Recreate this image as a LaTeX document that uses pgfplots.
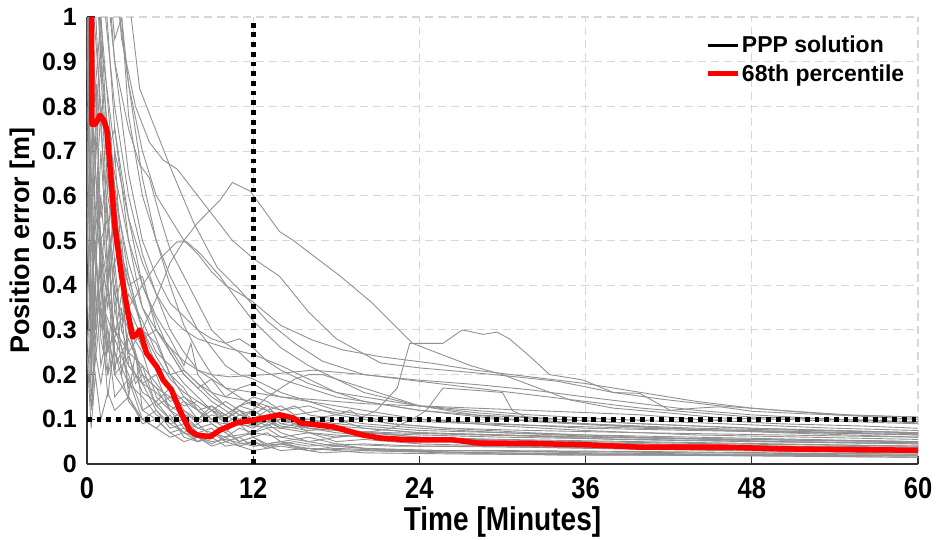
\documentclass[border=0pt]{standalone}
\usepackage{fontspec}
\setmainfont{Liberation Sans}
\newfontfamily\narrowfont[FakeStretch=0.85]{Liberation Sans}
\usepackage{pgfplots}
\pgfplotsset{compat=1.18}
\definecolor{runc}{RGB}{145,145,145}
\definecolor{gridc}{RGB}{215,215,215}
\begin{document}
\begin{tikzpicture}
\path[use as bounding box] (-87pt,-75pt) rectangle (849pt,464pt);
\begin{axis}[
  at={(0pt,0pt)}, anchor=south west,
  scale only axis, width=831pt, height=447pt,
  xmin=0, xmax=60, ymin=0, ymax=1,
  xtick={0,12,24,36,48,60},
  ytick={0,0.1,0.2,0.3,0.4,0.5,0.6,0.7,0.8,0.9,1},
  yticklabels={0,0.1,0.2,0.3,0.4,0.5,0.6,0.7,0.8,0.9,1},
  axis x line*=bottom, axis y line*=left,
  axis line style={line width=1.4pt, black!80},
  tick style={line width=1.2pt, black!80},
  tick align=inside, major tick length=8pt,
  grid=major,
  major grid style={gridc, line width=1.1pt, dash pattern=on 8pt off 5pt},
  /pgf/number format/assume math mode=true,
  yticklabel style={font=\bfseries\fontsize{25}{25}\selectfont, anchor=east, inner sep=0pt, xshift=-10pt},
  xticklabel style={font=\narrowfont\bfseries\fontsize{30}{30}\selectfont, anchor=base, inner sep=0pt, yshift=-34pt},
  xlabel={Time [Minutes]},
  ylabel={Position error [m]},
  xlabel style={font=\narrowfont\bfseries\fontsize{33}{33}\selectfont, at={(axis description cs:0.5,0)}, anchor=base, yshift=-66pt, inner sep=0pt},
  ylabel style={font=\bfseries\fontsize{27}{27}\selectfont, at={(axis description cs:-0.0686,0.5)}, anchor=base, inner sep=0pt},
  legend style={at={(rel axis cs:0.744,0.962)}, anchor=north west, draw=none, fill=none,
     font=\bfseries\fontsize{23}{23}\selectfont, row sep=6pt, inner sep=0pt},
  legend cell align=left,
  legend image code/.code={\draw[#1] (0pt,0pt) -- (30pt,0pt);},
  greyrun/.style={runc, line width=0.9pt, forget plot},
]
% ---------- individual runs (grey) ----------
\addplot[greyrun] coordinates {(0,1.6)(0.5,1.1)(1,0.75)(1.5,0.55)(2,0.42)(2.5,0.3)(3,0.25)(3.5,0.18)(4,0.2)(5,0.13)(6,0.1)(7,0.07)(8,0.06)(9,0.05)(10,0.055)(12,0.04)(14,0.045)(16,0.035)(20,0.03)(24,0.028)(30,0.025)(40,0.022)(50,0.02)(60,0.018)};
\addplot[greyrun] coordinates {(0,1.3)(0.3,0.2)(0.7,0.85)(1,0.4)(1.4,0.6)(2,0.35)(2.5,0.42)(3,0.22)(4,0.18)(5,0.12)(6,0.09)(7,0.1)(8,0.07)(9,0.08)(10,0.05)(11,0.06)(12,0.04)(14,0.05)(16,0.03)(18,0.04)(22,0.03)(28,0.03)(36,0.025)(46,0.022)(60,0.02)};
\addplot[greyrun] coordinates {(0,0.95)(0.4,0.13)(0.8,0.6)(1.2,0.25)(1.6,0.5)(2,0.2)(2.5,0.35)(3,0.15)(3.5,0.25)(4,0.12)(5,0.1)(6,0.07)(7,0.05)(8,0.06)(9,0.04)(10,0.05)(12,0.03)(14,0.04)(17,0.025)(20,0.03)(26,0.025)(34,0.02)(44,0.02)(60,0.015)};
\addplot[greyrun] coordinates {(0,2.2)(1,1.6)(2,1.15)(3,0.85)(4,0.64)(5,0.5)(6,0.4)(7,0.31)(8,0.25)(9,0.2)(10,0.17)(11,0.15)(12,0.13)(14,0.11)(16,0.1)(18,0.09)(20,0.085)(24,0.075)(30,0.07)(36,0.065)(44,0.06)(52,0.055)(60,0.05)};
\addplot[greyrun] coordinates {(0,2.5)(2,1.4)(3,1.05)(3.8,0.84)(4.8,0.76)(6.2,0.65)(7.7,0.54)(9.4,0.44)(11,0.39)(13,0.32)(15,0.27)(17,0.23)(20,0.2)(24,0.185)(28,0.17)(32,0.155)(36,0.14)(40,0.125)(44,0.115)(48,0.105)(54,0.1)(60,0.095)};
\addplot[greyrun] coordinates {(0,2)(1.5,1.3)(2.5,0.95)(3.5,0.8)(4.5,0.72)(5.5,0.68)(6.5,0.66)(7.5,0.62)(9,0.56)(10.5,0.5)(12,0.46)(13.9,0.42)(16,0.34)(18,0.28)(21.2,0.226)(24,0.215)(27.7,0.205)(31,0.195)(34,0.185)(38,0.16)(41.5,0.145)(45.7,0.13)(50,0.12)(55,0.11)(60,0.105)};
\addplot[greyrun] coordinates {(0,0.9)(1,0.5)(2,0.3)(3,0.25)(4,0.3)(5,0.37)(6,0.45)(7,0.5)(8,0.54)(9.6,0.59)(10.5,0.63)(11.8,0.61)(13.9,0.52)(14.9,0.5)(18.3,0.42)(20.6,0.36)(23.5,0.27)(27.7,0.22)(30,0.2)(34.9,0.143)(38,0.125)(42.1,0.114)(45.7,0.103)(50,0.1)(55,0.095)(60,0.09)};
\addplot[greyrun] coordinates {(0,1.2)(0.5,0.6)(1,0.45)(2,0.3)(3,0.22)(4,0.18)(5,0.16)(6,0.13)(7,0.11)(8,0.1)(10,0.09)(12,0.085)(14,0.08)(16,0.085)(18,0.09)(19.5,0.1)(20.9,0.12)(22.4,0.17)(23.3,0.27)(25.7,0.27)(27.1,0.3)(28.6,0.29)(29.6,0.295)(30.5,0.28)(32,0.24)(33.4,0.2)(35.8,0.188)(38,0.16)(39.9,0.158)(42.1,0.12)(44,0.125)(45.7,0.128)(48,0.118)(52,0.112)(56,0.108)(60,0.105)};
\addplot[greyrun] coordinates {(0,1.1)(0.5,0.7)(1,0.5)(1.5,0.55)(2,0.38)(3,0.3)(4,0.2)(5,0.17)(6,0.12)(7,0.1)(8,0.08)(10,0.06)(12,0.07)(14,0.06)(16,0.05)(18,0.06)(20,0.07)(22,0.08)(23.5,0.1)(24.5,0.12)(25.7,0.17)(28,0.165)(30,0.16)(30.7,0.12)(32,0.1)(36,0.09)(42,0.08)(50,0.07)(60,0.06)};
\addplot[greyrun] coordinates {(0,1.5)(1,0.9)(2,0.6)(3,0.45)(4,0.35)(5,0.3)(6,0.26)(7,0.23)(8,0.21)(9,0.2)(10.3,0.195)(13,0.2)(16.3,0.21)(20,0.2)(23.8,0.188)(28,0.178)(32,0.166)(36,0.15)(40,0.135)(44,0.12)(48,0.11)(54,0.1)(60,0.092)};
\addplot[greyrun] coordinates {(0,1.8)(1.5,1.2)(3,0.85)(4,0.7)(5,0.6)(6,0.55)(7,0.5)(8,0.47)(9,0.43)(10,0.4)(11.8,0.367)(14,0.31)(16.3,0.277)(18.5,0.255)(21.2,0.24)(25,0.225)(28,0.21)(32,0.195)(36,0.18)(40,0.16)(44,0.14)(48,0.125)(54,0.11)(60,0.1)};
\addplot[greyrun] coordinates {(0,1.4)(1,0.95)(2,0.7)(3,0.55)(4,0.45)(5,0.38)(6,0.33)(7,0.3)(8,0.28)(9,0.27)(10,0.26)(12,0.245)(14,0.22)(16,0.19)(18,0.16)(20,0.14)(24,0.12)(28,0.11)(34,0.1)(40,0.09)(48,0.08)(60,0.07)};
\addplot[greyrun] coordinates {(0,0.8)(0.5,0.45)(1,0.6)(1.5,0.4)(2,0.5)(3,0.35)(4,0.28)(5,0.3)(6,0.25)(7,0.2)(8,0.17)(9,0.19)(10,0.15)(12,0.14)(14,0.12)(16,0.13)(18,0.11)(22,0.09)(26,0.08)(32,0.07)(40,0.06)(50,0.05)(60,0.045)};
\addplot[greyrun] coordinates {(0,0.6)(0.3,0.25)(0.6,0.4)(1,0.22)(1.5,0.3)(2,0.2)(3,0.24)(4,0.16)(5,0.14)(6,0.17)(7,0.12)(8,0.1)(9,0.13)(10,0.1)(11,0.12)(12,0.09)(14,0.1)(16,0.08)(20,0.07)(24,0.06)(30,0.055)(40,0.05)(50,0.045)(60,0.04)};
\addplot[greyrun] coordinates {(0,0.4)(0.3,0.15)(0.7,0.3)(1,0.5)(1.5,0.35)(2,0.45)(2.5,0.3)(3,0.38)(4,0.32)(5,0.25)(6,0.22)(7,0.18)(8,0.15)(9,0.12)(10,0.1)(11,0.12)(12,0.11)(13,0.13)(14,0.1)(16,0.09)(19,0.075)(24,0.06)(30,0.05)(40,0.04)(50,0.035)(60,0.03)};
\addplot[greyrun] coordinates {(0,1.0)(0.5,0.35)(1,0.7)(1.5,0.45)(2,0.55)(3,0.4)(4,0.42)(5,0.3)(6,0.26)(7,0.21)(8,0.18)(9,0.16)(10,0.15)(11,0.17)(12,0.18)(13,0.16)(14,0.15)(16,0.14)(18,0.13)(20,0.12)(24,0.1)(30,0.085)(36,0.075)(44,0.065)(52,0.06)(60,0.055)};
\addplot[greyrun] coordinates {(0,2)(1,1.3)(2,0.9)(3,0.65)(4,0.5)(5,0.42)(6,0.36)(7,0.33)(8,0.3)(9,0.28)(10,0.27)(11,0.28)(12,0.26)(13,0.23)(14,0.21)(16,0.18)(18,0.16)(20,0.15)(24,0.13)(28,0.12)(32,0.11)(38,0.1)(46,0.09)(54,0.08)(60,0.075)};
\addplot[greyrun] coordinates {(0,1.2)(0.5,0.9)(1,0.55)(1.5,0.65)(2,0.45)(2.5,0.5)(3,0.33)(4,0.26)(5,0.22)(6,0.2)(7,0.21)(8,0.18)(9,0.15)(10,0.13)(11,0.11)(12,0.12)(13,0.1)(14,0.11)(16,0.09)(18,0.1)(20,0.08)(24,0.07)(30,0.065)(38,0.055)(48,0.05)(60,0.045)};
\addplot[greyrun] coordinates {(0,0.7)(0.4,0.3)(0.8,0.55)(1.2,0.35)(2,0.28)(2.5,0.38)(3,0.25)(4,0.22)(5,0.18)(6,0.14)(7,0.15)(8,0.12)(9,0.1)(10,0.08)(11,0.09)(12,0.06)(13,0.07)(14,0.05)(16,0.06)(18,0.045)(22,0.04)(28,0.04)(36,0.035)(46,0.03)(60,0.025)};
\addplot[greyrun] coordinates {(0,1.5)(0.5,1.0)(1,0.8)(2,0.65)(3,0.5)(4,0.4)(5,0.33)(6,0.28)(7,0.22)(7.5,0.27)(8,0.2)(9,0.16)(10,0.13)(11,0.11)(12,0.1)(13,0.12)(14,0.09)(16,0.08)(18,0.07)(22,0.06)(28,0.055)(36,0.05)(46,0.045)(60,0.04)};
\addplot[greyrun] coordinates {(0,1.8)(1,1.2)(2,0.9)(3,0.75)(3.8,0.67)(4.5,0.64)(5.3,0.55)(6,0.48)(7,0.42)(8,0.36)(9,0.3)(10,0.27)(11,0.25)(12,0.22)(14,0.19)(16,0.17)(18,0.15)(20,0.14)(24,0.12)(30,0.1)(36,0.09)(44,0.08)(52,0.075)(60,0.07)};
\addplot[greyrun] coordinates {(0,0.9)(0.5,0.5)(1,0.35)(1.5,0.25)(2,0.3)(3,0.35)(4,0.4)(5.3,0.46)(6.5,0.497)(7.2,0.497)(8.2,0.47)(9.6,0.42)(11,0.36)(12,0.32)(14,0.26)(16,0.22)(18,0.19)(20,0.16)(24,0.13)(28,0.115)(34,0.1)(40,0.09)(48,0.08)(60,0.07)};
\addplot[greyrun] coordinates {(0,1.1)(0.5,0.5)(1,0.8)(1.5,0.4)(2,0.6)(3,0.3)(4,0.25)(5,0.15)(6,0.12)(7,0.08)(8,0.06)(9,0.07)(10,0.05)(11,0.06)(12,0.07)(13,0.08)(14,0.06)(16,0.07)(18,0.05)(20,0.055)(24,0.045)(30,0.04)(40,0.035)(50,0.03)(60,0.028)};
\addplot[greyrun] coordinates {(0,0.5)(0.5,0.2)(1,0.35)(1.5,0.15)(2,0.28)(3,0.2)(4,0.12)(5,0.14)(6,0.1)(7,0.12)(8,0.09)(9,0.11)(10,0.1)(11,0.13)(12,0.15)(13,0.14)(14,0.12)(15,0.13)(16,0.11)(18,0.1)(20,0.09)(24,0.08)(30,0.07)(38,0.06)(48,0.055)(60,0.05)};
\addplot[greyrun] coordinates {(0,0.3)(0.3,0.12)(0.6,0.25)(1,0.18)(1.5,0.28)(2,0.15)(3,0.19)(4,0.1)(5,0.08)(6,0.11)(7,0.06)(8,0.05)(9,0.07)(10,0.06)(11,0.08)(12,0.07)(13,0.09)(14,0.07)(16,0.05)(18,0.04)(20,0.035)(26,0.03)(34,0.028)(44,0.025)(60,0.022)};
\addplot[greyrun] coordinates {(0,1.4)(0.5,0.6)(1,0.9)(1.5,0.5)(2,0.7)(2.5,0.45)(3,0.4)(4,0.3)(5,0.24)(6,0.19)(7,0.16)(8,0.14)(9,0.12)(10,0.14)(11,0.12)(12,0.1)(13,0.11)(14,0.09)(16,0.1)(18,0.085)(20,0.08)(24,0.07)(30,0.065)(38,0.06)(48,0.055)(60,0.05)};
\addplot[greyrun] coordinates {(0,0.75)(0.3,0.35)(0.6,0.5)(1,0.28)(1.5,0.2)(2,0.25)(3,0.14)(4,0.1)(5,0.12)(6,0.08)(7,0.09)(8,0.06)(9,0.045)(10,0.06)(11,0.04)(12,0.05)(13,0.035)(14,0.045)(16,0.03)(18,0.035)(22,0.03)(28,0.025)(36,0.022)(48,0.02)(60,0.018)};
\addplot[greyrun] coordinates {(0,2)(1,1.2)(2,0.75)(3,0.5)(4,0.35)(5,0.28)(6,0.2)(7,0.15)(8,0.13)(9,0.1)(10,0.11)(11,0.09)(12,0.08)(13,0.1)(14,0.08)(16,0.07)(18,0.065)(20,0.06)(24,0.055)(30,0.05)(40,0.045)(50,0.04)(60,0.038)};
\addplot[greyrun] coordinates {(0,1.0)(0.5,0.3)(1,0.45)(1.5,0.2)(2,0.35)(3,0.17)(4,0.22)(5,0.13)(6,0.15)(7,0.11)(8,0.08)(9,0.09)(10,0.07)(11,0.1)(12,0.085)(13,0.095)(14,0.08)(15,0.09)(16,0.07)(18,0.06)(20,0.065)(24,0.055)(30,0.05)(40,0.045)(50,0.04)(60,0.035)};
\addplot[greyrun] coordinates {(0,1.7)(1,1.0)(2,0.62)(3,0.42)(4,0.3)(5,0.22)(6,0.17)(7,0.14)(8,0.12)(9,0.13)(10,0.11)(11,0.13)(12,0.14)(13,0.12)(14,0.13)(15,0.11)(17,0.12)(19,0.11)(21,0.1)(24,0.095)(28,0.09)(34,0.085)(40,0.08)(48,0.075)(56,0.07)(60,0.068)};
\addplot[greyrun] coordinates {(0,0.9)(0.4,0.4)(0.8,0.65)(1.2,0.3)(1.6,0.45)(2,0.25)(3,0.18)(4,0.15)(5,0.11)(6,0.09)(7,0.07)(8,0.09)(9,0.06)(10,0.08)(11,0.05)(12,0.06)(13,0.04)(15,0.05)(17,0.04)(20,0.045)(24,0.04)(30,0.038)(40,0.035)(50,0.032)(60,0.03)};
\addplot[greyrun] coordinates {(0,1.3)(0.5,0.8)(1,1.0)(1.5,0.7)(2,0.75)(3,0.55)(4,0.4)(5,0.32)(6,0.25)(7,0.2)(8,0.17)(9,0.14)(10,0.12)(11,0.1)(12,0.09)(13,0.1)(14,0.085)(16,0.075)(18,0.08)(20,0.07)(24,0.065)(30,0.06)(40,0.055)(50,0.05)(60,0.048)};
\addplot[greyrun] coordinates {(0,0.55)(0.3,0.2)(0.7,0.45)(1,0.3)(1.5,0.4)(2,0.22)(3,0.28)(4,0.2)(5,0.17)(6,0.15)(7,0.13)(8,0.14)(9,0.12)(10,0.11)(11,0.13)(12,0.12)(13,0.1)(14,0.11)(16,0.1)(18,0.11)(19,0.12)(20,0.1)(22,0.09)(26,0.08)(32,0.075)(40,0.07)(50,0.065)(60,0.06)};
\addplot[greyrun] coordinates {(0,1.6)(1,1.1)(2,0.8)(3,0.6)(4,0.47)(5,0.38)(6,0.3)(7,0.25)(8,0.21)(9,0.19)(10,0.17)(12,0.16)(14,0.15)(16,0.145)(18,0.14)(20,0.135)(24,0.13)(28,0.125)(32,0.12)(36,0.115)(40,0.11)(44,0.1)(50,0.09)(56,0.085)(60,0.08)};
\addplot[greyrun] coordinates {(0,0.35)(0.3,0.6)(0.6,0.3)(1,0.5)(1.5,0.25)(2,0.4)(2.5,0.2)(3,0.3)(4,0.18)(5,0.2)(6,0.12)(7,0.14)(8,0.1)(9,0.12)(10,0.09)(11,0.11)(12,0.1)(13,0.085)(14,0.1)(16,0.08)(18,0.075)(22,0.07)(28,0.065)(36,0.06)(46,0.055)(60,0.05)};
\addplot[greyrun] coordinates {(0,0.25)(0.3,0.08)(0.6,0.2)(1,0.1)(1.5,0.16)(2,0.12)(3,0.15)(4,0.09)(5,0.1)(6,0.07)(7,0.08)(8,0.05)(9,0.06)(10,0.04)(12,0.05)(14,0.03)(16,0.035)(20,0.025)(28,0.022)(40,0.02)(60,0.015)};
\addplot[greyrun] coordinates {(0,1.9)(1,1.3)(2,0.95)(2.5,1.0)(3,0.78)(4,0.6)(5,0.5)(6,0.42)(7,0.36)(8,0.3)(9,0.26)(10,0.22)(11,0.2)(12,0.19)(13,0.175)(14,0.16)(16,0.14)(18,0.12)(20,0.11)(24,0.1)(30,0.09)(36,0.08)(44,0.075)(52,0.07)(60,0.065)};
\addplot[greyrun] coordinates {(0,0.65)(0.5,0.25)(1,0.4)(2,0.2)(3,0.15)(4,0.1)(5,0.08)(6,0.06)(7,0.07)(8,0.05)(9,0.06)(10,0.08)(11,0.1)(12,0.12)(13,0.15)(14,0.17)(15,0.19)(16,0.2)(17,0.2)(18,0.19)(20,0.17)(22,0.15)(24,0.13)(28,0.11)(32,0.095)(38,0.085)(46,0.075)(54,0.07)(60,0.065)};
\addplot[greyrun] coordinates {(0,1.25)(0.5,0.7)(1,0.95)(1.5,0.6)(2,0.5)(3,0.42)(4,0.3)(5,0.27)(6,0.2)(7,0.17)(8,0.12)(9,0.09)(10,0.07)(11,0.05)(12,0.06)(13,0.045)(14,0.05)(16,0.04)(18,0.045)(20,0.035)(24,0.03)(30,0.03)(40,0.028)(50,0.025)(60,0.022)};
% ---------- PPP solution thresholds ----------
\addplot[black, line width=5pt, dash pattern=on 4.8pt off 4.9pt, forget plot] coordinates {(12,0)(12,0.99)};
\addplot[black, line width=5pt, dash pattern=on 4.8pt off 4.9pt, forget plot] coordinates {(0,0.1)(60,0.1)};
% ---------- 68th percentile ----------
\addplot[red, line width=5.5pt, line join=round, forget plot] coordinates {(0.33,1.05)(0.36,0.76)(0.6,0.76)(0.94,0.78)(1.2,0.77)(1.44,0.747)(1.7,0.65)(2.02,0.53)(2.5,0.42)(3.0,0.33)(3.3,0.284)(3.6,0.29)(3.8,0.30)(4.3,0.248)(5.05,0.217)(5.5,0.188)(6.1,0.166)(6.7,0.12)(7.4,0.076)(7.9,0.065)(8.9,0.061)(9.6,0.076)(10.8,0.092)(12,0.098)(13.9,0.11)(14.9,0.103)(15.4,0.092)(17.8,0.083)(19.9,0.065)(21.2,0.058)(23.3,0.054)(26.4,0.054)(28.2,0.047)(32,0.046)(36.1,0.043)(39.7,0.038)(45.7,0.038)(50,0.034)(55,0.032)(60,0.031)};
\addlegendimage{black, line width=3.5pt}
\addlegendentry{PPP solution}
\addlegendimage{red, line width=4.5pt}
\addlegendentry{68th percentile}
\end{axis}
\end{tikzpicture}
\end{document}
